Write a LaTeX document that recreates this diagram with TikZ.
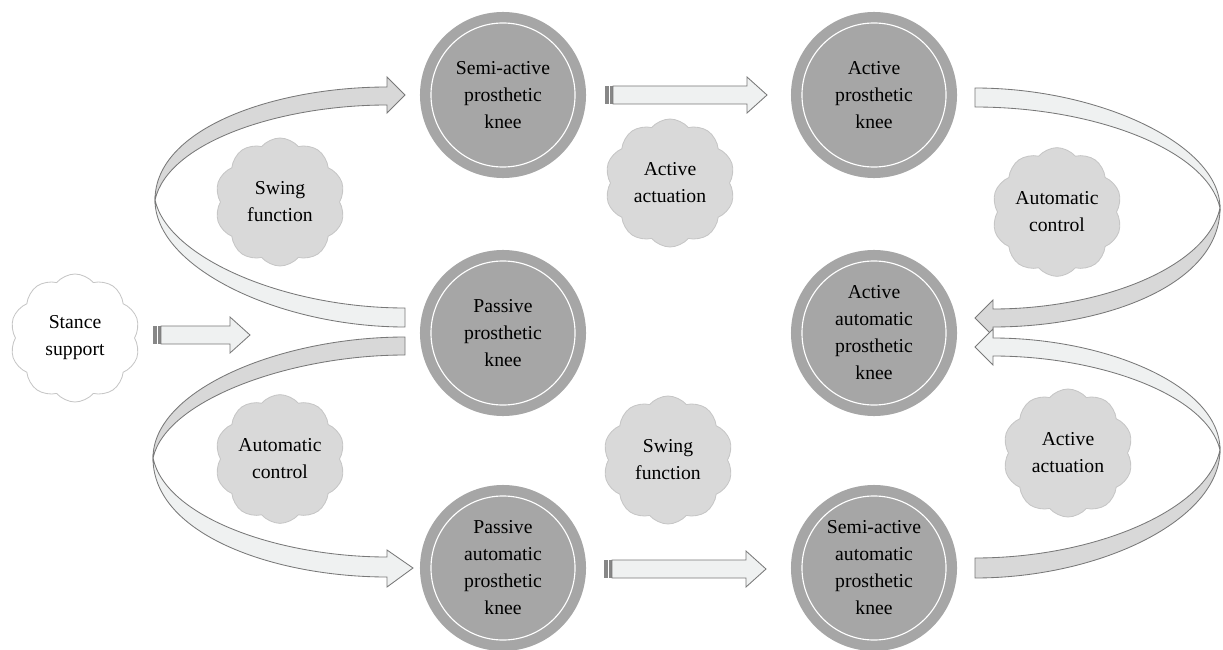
\documentclass[tikz,border=0pt]{standalone}
\usepackage{fontspec}
\setmainfont{Liberation Serif}
\usetikzlibrary{shapes.symbols}
\definecolor{kneefill}{RGB}{166,166,166}
\definecolor{cloudfill}{RGB}{217,217,217}
\definecolor{cloudline}{RGB}{198,198,198}
\definecolor{ribdark}{RGB}{216,216,216}
\definecolor{riblight}{RGB}{239,241,241}
\definecolor{ribline}{RGB}{120,120,120}
\definecolor{stripecol}{RGB}{135,135,135}
\newcommand\strarrow[3]{%
  \fill[stripecol] (#1,#3-9) rectangle (#1+3.5,#3+9);
  \fill[stripecol] (#1+5,#3-9) rectangle (#1+8,#3+9);
  \filldraw[band,fill=riblight] (#1+8,#3-9) -- (#2-20,#3-9) -- (#2-20,#3-18) -- (#2,#3) -- (#2-20,#3+18) -- (#2-20,#3+9) -- (#1+8,#3+9) -- cycle;}
\begin{document}
\begin{tikzpicture}[x=0.025cm,y=-0.025cm,
  knee/.style={circle,fill=kneefill,minimum size=4.15cm,inner sep=0pt,align=center,font=\fontsize{14}{19.2}\selectfont},
  puff/.style={cloud,cloud puffs=10,cloud puff arc=100,aspect=1,fill=cloudfill,draw=cloudline,line width=0.6pt,minimum width=3.25cm,minimum height=3.2cm,align=center,inner sep=0pt,font=\fontsize{14}{19.2}\selectfont},
  band/.style={draw=ribline,line width=0.6pt,line join=miter}]
\useasboundingbox (0,0) rectangle (1223,650);

% ribbons
\filldraw[band,fill=ribdark] (155,200) .. controls (155,128) and (275,87) .. (387,87) -- (387,77) -- (405,95) -- (387,113) -- (387,105) .. controls (280,105) and (168,142) .. (155,200) -- cycle;
\filldraw[band,fill=riblight] (405,308) -- (405,327) .. controls (280,327) and (155,268) .. (155,200) .. controls (168,258) and (285,308) .. (405,308) -- cycle;

\filldraw[band,fill=riblight] (153,458) .. controls (153,535) and (275,577) .. (387,577) -- (387,587) -- (413,568) -- (387,550) -- (387,557) .. controls (280,557) and (166,518) .. (153,458) -- cycle;
\filldraw[band,fill=ribdark] (405,337) .. controls (280,337) and (153,390) .. (153,458) .. controls (166,400) and (290,355) .. (405,355) -- cycle;

\filldraw[band,fill=ribdark] (1220,208) .. controls (1220,285) and (1105,327) .. (993,327) -- (993,336) -- (975,318) -- (993,300) -- (993,309) .. controls (1100,309) and (1207,268) .. (1220,208) -- cycle;
\filldraw[band,fill=riblight] (975,88) .. controls (1100,88) and (1220,145) .. (1220,208) .. controls (1207,150) and (1095,107) .. (975,107) -- cycle;

\filldraw[band,fill=riblight] (1220,450) .. controls (1220,385) and (1105,338) .. (993,338) -- (993,329) -- (975,347) -- (993,365) -- (993,356) .. controls (1100,356) and (1207,395) .. (1220,450) -- cycle;
\filldraw[band,fill=ribdark] (975,578) .. controls (1100,578) and (1220,520) .. (1220,450) .. controls (1207,510) and (1095,558) .. (975,558) -- cycle;

% straight arrows
\strarrow{605}{767}{95}
\strarrow{604}{766}{569}
\strarrow{153}{250}{335}

% knees
\node[knee] (semi) at (503,95) {Semi-active\\prosthetic\\knee};
\node[knee] (act) at (874,95) {Active\\prosthetic\\knee};
\node[knee] (pass) at (503,333) {Passive\\prosthetic\\knee};
\node[knee] (actauto) at (874,333) {Active\\automatic\\prosthetic\\knee};
\node[knee] (passauto) at (503,568) {Passive\\automatic\\prosthetic\\knee};
\node[knee] (semiauto) at (874,568) {Semi-active\\automatic\\prosthetic\\knee};
\foreach \n in {semi,act,pass,actauto,passauto,semiauto}
  \draw[white,line width=0.8pt] (\n.center) circle[radius=1.8cm];

% clouds
\node[puff] (swing1) at (280,202) {Swing\\function};
\node[puff] (actua1) at (670,183) {Active\\actuation};
\node[puff] (auto1) at (1057,212) {Automatic\\control};
\node[puff,fill=white] (stance) at (75,338) {Stance\\support};
\node[puff] (auto2) at (280,459) {Automatic\\control};
\node[puff] (swing2) at (668,460) {Swing\\function};
\node[puff] (actua2) at (1068,453) {Active\\actuation};
\end{tikzpicture}
\end{document}
